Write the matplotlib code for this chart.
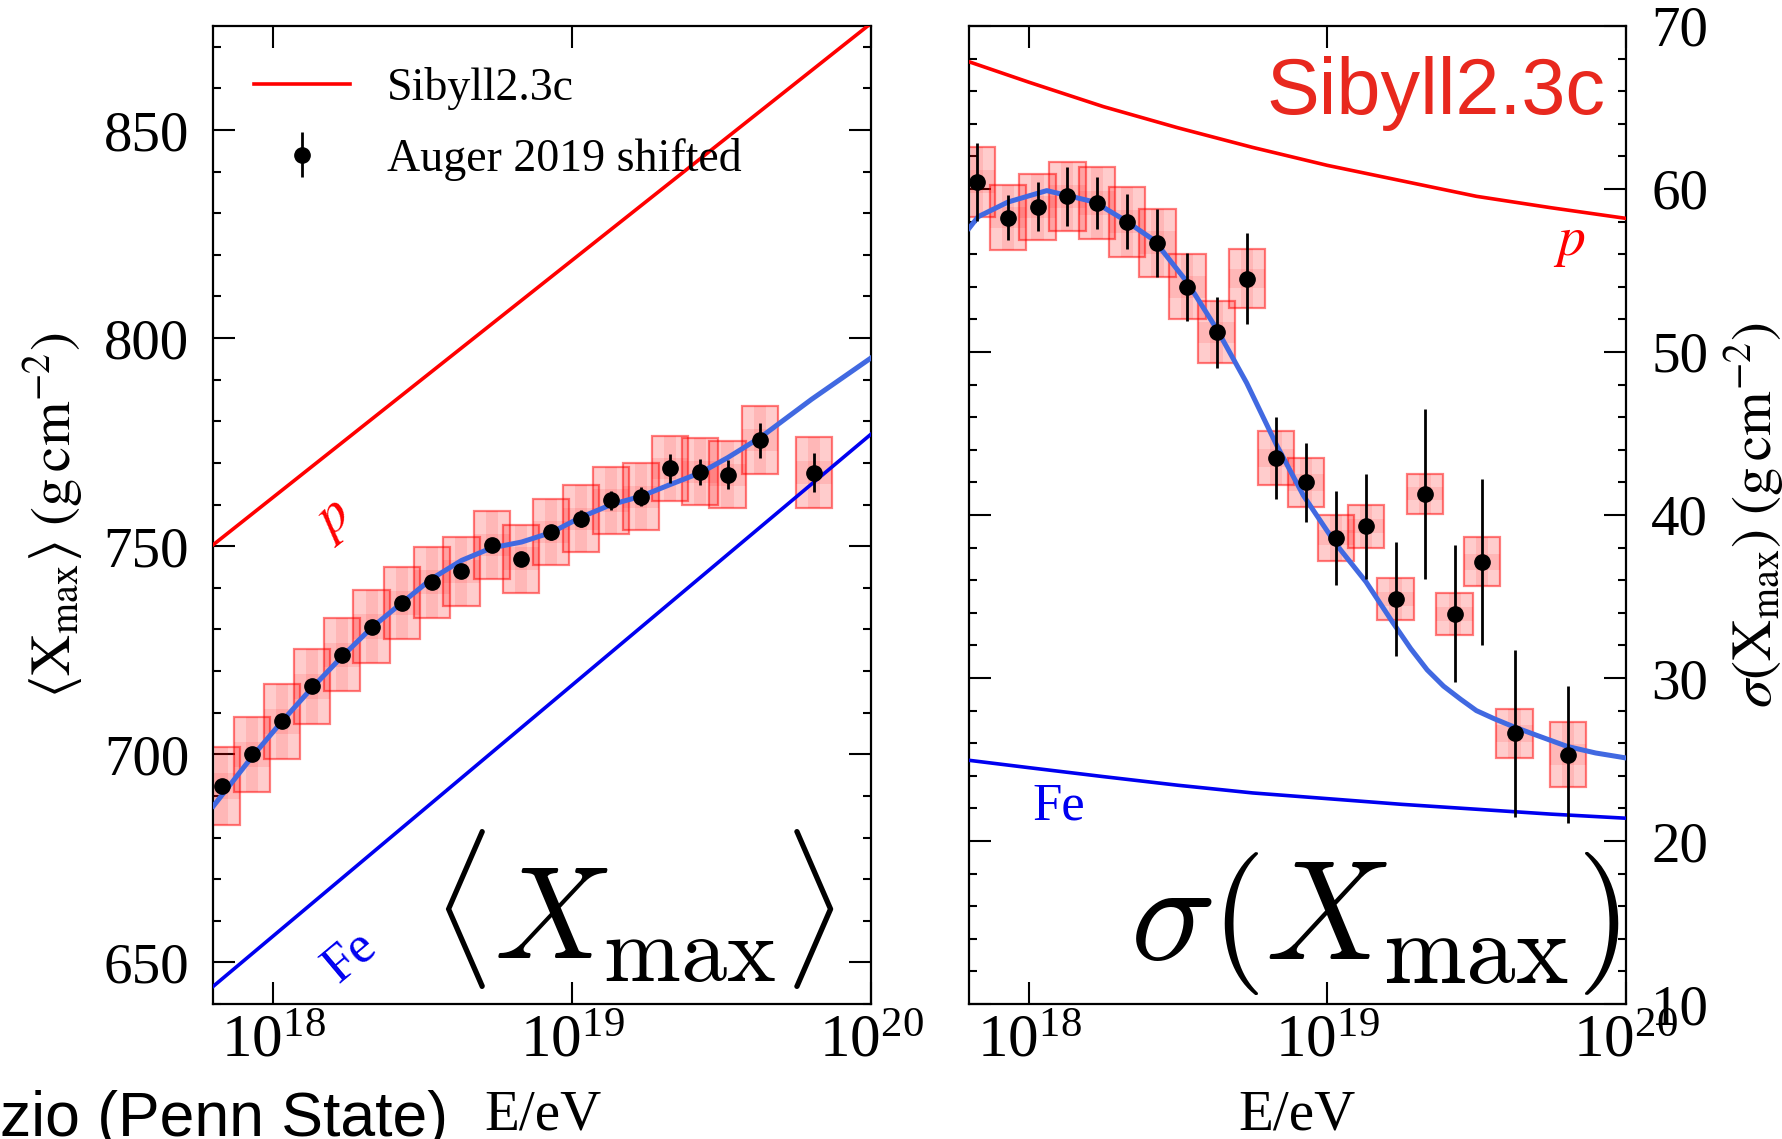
import numpy as np
import matplotlib
matplotlib.use('Agg')
import matplotlib.pyplot as plt
from matplotlib.patches import Rectangle
from matplotlib.ticker import MultipleLocator, NullLocator, FixedLocator

plt.rcParams['font.family'] = 'serif'
plt.rcParams['font.serif'] = ['Liberation Serif', 'DejaVu Serif']
plt.rcParams['mathtext.fontset'] = 'stix'

# log10(E/eV) of the Auger bins (shifted)
lgE_data = [17.827, 17.929, 18.029, 18.129, 18.229, 18.329, 18.431, 18.531, 18.629, 18.731,
            18.829, 18.929, 19.029, 19.129, 19.229, 19.327, 19.427, 19.519, 19.628, 19.808]

# <Xmax> with stat and sys errors (g/cm^2)
xmax_mean = [692.4, 700.0, 707.9, 716.3, 723.9, 730.7, 736.4, 741.3, 744.0, 750.3,
             747.0, 753.4, 756.6, 761.0, 761.9, 768.7, 767.9, 767.2, 775.5, 767.7]
xmax_stat = [1.0, 1.0, 1.0, 1.0, 1.0, 1.0, 1.1, 1.2, 1.4, 1.5,
             1.7, 1.8, 2.0, 2.2, 2.3, 3.4, 3.1, 3.5, 4.2, 4.7]
xmax_sys = [9.4, 9.0, 9.0, 8.9, 8.8, 8.7, 8.6, 8.6, 8.3, 8.2,
            8.2, 8.0, 8.0, 8.0, 8.0, 7.8, 8.0, 8.0, 8.2, 8.6]

# sigma(Xmax) with stat and sys errors (g/cm^2)
sigma_mean = [60.45, 58.25, 58.9, 59.55, 59.13, 58.0, 56.7, 54.0, 51.2, 54.5,
              43.5, 42.0, 38.6, 39.3, 34.86, 41.29, 33.94, 37.13, 26.6, 25.3]
sigma_stat = [2.4, 1.4, 1.5, 1.8, 1.6, 1.7, 2.1, 2.1, 2.2, 2.8,
              2.5, 2.4, 2.9, 3.2, 3.5, 5.2, 4.2, 5.1, 5.1, 4.2]
sigma_sys = [2.15, 2.0, 2.0, 2.1, 2.2, 2.15, 2.1, 2.0, 1.9, 1.8,
             1.65, 1.5, 1.4, 1.3, 1.3, 1.2, 1.3, 1.5, 1.5, 2.0]

# Sibyll2.3c predictions, proton and iron
lg_xmax_model = [17.8, 20.0]
xmax_p = [750.4, 875.7]
xmax_fe = [644.3, 777.0]

lg_sigma_model = [17.8, 18.0, 18.25, 18.5, 18.75, 19.0, 19.25, 19.5, 19.75, 20.0]
sigma_p = [67.8, 66.55, 65.05, 63.75, 62.55, 61.45, 60.5, 59.55, 58.85, 58.2]
sigma_fe = [24.95, 24.5, 23.95, 23.42, 22.95, 22.6, 22.25, 21.95, 21.65, 21.4]

# mixed-composition fit curves
lg_fit_mean = [17.80, 17.93, 18.03, 18.13, 18.23, 18.33, 18.43, 18.53, 18.63, 18.73,
               18.83, 18.93, 19.03, 19.13, 19.23, 19.33, 19.43, 19.52, 19.63, 19.8, 20.0]
fit_mean = [687.6, 699.5, 708.0, 716.0, 723.5, 730.5, 736.4, 742.2, 746.6, 749.6,
            751.0, 753.3, 757.0, 760.0, 762.0, 764.9, 767.7, 771.3, 776.2, 785.3, 795.3]

lg_fit_sigma = [17.80, 17.83, 17.93, 18.06, 18.22, 18.32, 18.42, 18.53, 18.63, 18.73,
                18.83, 18.92, 19.03, 19.13, 19.22, 19.28, 19.335, 19.39, 19.447, 19.50,
                19.56, 19.626, 19.70, 19.805, 19.9, 20.0]
fit_sigma = [57.6, 58.3, 59.2, 59.9, 59.2, 58.1, 56.85, 54.3, 51.4, 48.1,
             44.3, 41.2, 38.2, 35.9, 33.4, 31.8, 30.5, 29.5, 28.7, 28.0,
             27.5, 27.0, 26.5, 25.8, 25.4, 25.1]

RED = '#ff0000'
FE_BLUE = '#0000f0'
FIT_BLUE = '#4169e1'
HALF_BIN = 0.061


def E(lg):
    return 10 ** np.asarray(lg, dtype=float)


def sys_boxes(ax, lg, y, dy):
    for l, v, d in zip(lg, y, dy):
        x0, x1 = 10 ** (l - HALF_BIN), 10 ** (l + HALF_BIN)
        w = x1 - x0
        ax.add_patch(Rectangle((x0, v - d), w, 2 * d, facecolor=(1, 0, 0, 0.2),
                               edgecolor=(1, 0, 0, 0.5), lw=1.6, zorder=2))
        # darker inner strips
        xa, xb = 10 ** (l - HALF_BIN / 3), 10 ** (l + HALF_BIN / 3)
        ax.add_patch(Rectangle((xa, v - d), xb - xa, 2 * d, facecolor=(1, 0, 0, 0.1),
                               edgecolor='none', zorder=2))
        ax.add_patch(Rectangle((x0, v - d / 3), w, 2 * d / 3, facecolor=(1, 0, 0, 0.1),
                               edgecolor='none', zorder=2))


def style_axis(ax):
    ax.set_xscale('log')
    ax.set_xlim(10 ** 17.8, 1e20)
    ax.xaxis.set_major_locator(FixedLocator([1e18, 1e19, 1e20]))
    ax.xaxis.set_minor_locator(NullLocator())
    ax.tick_params(which='both', direction='in', top=True, bottom=True, left=True, right=True,
                   width=1.5)
    ax.tick_params(which='major', length=16)
    ax.tick_params(which='minor', length=5.5)
    ax.tick_params(axis='x', labelsize=44, pad=7)
    ax.tick_params(axis='y', labelsize=41, pad=17.5)
    for s in ax.spines.values():
        s.set_linewidth(1.6)
    ax.set_xlabel('E/eV', fontsize=41, va='baseline')
    ax.xaxis.set_label_coords(0.5, -0.128)


fig = plt.figure(figsize=(17.82, 11.39), dpi=100)
ax1 = fig.add_axes([0.1198, 0.1185, 0.3692, 0.8587])
ax2 = fig.add_axes([0.5439, 0.1185, 0.3683, 0.8587])

# ---- left: <Xmax>
style_axis(ax1)
ax1.set_ylim(640, 875)
ax1.yaxis.set_major_locator(MultipleLocator(50))
ax1.yaxis.set_minor_locator(MultipleLocator(10))

ax1.plot(E(lg_xmax_model), xmax_p, color=RED, lw=2.6, label='Sibyll2.3c', zorder=3)
ax1.plot(E(lg_xmax_model), xmax_fe, color=FE_BLUE, lw=2.6, zorder=3)
sys_boxes(ax1, lgE_data, xmax_mean, xmax_sys)
ax1.plot(E(lg_fit_mean), fit_mean, color=FIT_BLUE, lw=3.6, zorder=4)
ax1.errorbar(E(lgE_data), xmax_mean, yerr=xmax_stat, fmt='o', color='k', ms=11,
             elinewidth=2, capsize=0, zorder=5, label='Auger 2019 shifted')

ax1.text(10 ** 18.20, 756.3, '$p$', color=RED, fontsize=40, rotation=38,
         ha='center', va='center', rotation_mode='anchor')
ax1.text(10 ** 18.257, 651.3, 'Fe', color=FE_BLUE, fontsize=38, rotation=40,
         ha='center', va='center', rotation_mode='anchor')
ax1.text(0.945, 0.046, r'$\langle X_{\rm max}\rangle$', transform=ax1.transAxes,
         fontsize=95, math_fontfamily='cm', ha='right', va='baseline')

ax1.set_ylabel(r'$\langle \mathrm{X}_{\rm max}\rangle\ (\mathrm{g\,cm}^{-2})$', fontsize=41)
ax1.yaxis.set_label_coords(-0.195, 0.5)

ax1.legend(loc='upper left', bbox_to_anchor=(0.0616, 0.958), frameon=False, fontsize=33,
           borderpad=0, borderaxespad=0, handlelength=2.1, handletextpad=0.8,
           labelspacing=0.6)

# ---- right: sigma(Xmax)
style_axis(ax2)
ax2.set_ylim(10, 70)
ax2.yaxis.set_major_locator(MultipleLocator(10))
ax2.yaxis.set_minor_locator(MultipleLocator(2))
ax2.tick_params(axis='y', labelleft=False, labelright=True, pad=18.5)

ax2.plot(E(lg_sigma_model), sigma_p, color=RED, lw=2.6, zorder=3)
ax2.plot(E(lg_sigma_model), sigma_fe, color=FE_BLUE, lw=2.6, zorder=3)
sys_boxes(ax2, lgE_data, sigma_mean, sigma_sys)
ax2.plot(E(lg_fit_sigma), fit_sigma, color=FIT_BLUE, lw=3.6, zorder=4)
ax2.errorbar(E(lgE_data), sigma_mean, yerr=sigma_stat, fmt='o', color='k', ms=11,
             elinewidth=2, capsize=0, zorder=5)

ax2.text(10 ** 19.81, 56.7, '$p$', color=RED, fontsize=40, ha='center', va='center')
ax2.text(10 ** 18.10, 22.1, 'Fe', color=FE_BLUE, fontsize=38, ha='center', va='center')
ax2.text(0.970, 0.91, 'Sibyll2.3c', transform=ax2.transAxes, color='#e8281e',
         fontsize=57, family='Liberation Sans', ha='right', va='baseline')
ax2.text(0.9916, 0.046, r'$\sigma(X_{\rm max})$', transform=ax2.transAxes,
         fontsize=102, math_fontfamily='cm', ha='right', va='baseline')

ax2.yaxis.set_label_position('right')
ax2.set_ylabel(r'$\sigma(\mathrm{X}_{\rm max})\ (\mathrm{g\,cm}^{-2})$', fontsize=41)
ax2.yaxis.set_label_coords(1.147, 0.5)

fig.text(0.0, 0.0026, 'zio (Penn State)', fontsize=45, family='Liberation Sans',
         ha='left', va='baseline')

fig.savefig('out.png', dpi=100)
